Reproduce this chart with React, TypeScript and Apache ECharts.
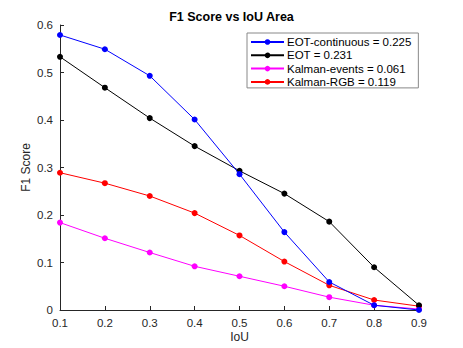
import React, { useEffect, useRef } from "react";
import * as echarts from "echarts";

const iouLabels = ["0.1", "0.2", "0.3", "0.4", "0.5", "0.6", "0.7", "0.8", "0.9"];
const eotContinuous = [0.579, 0.549, 0.493, 0.401, 0.286, 0.164, 0.059, 0.01, 0.0];
const eot = [0.533, 0.468, 0.404, 0.345, 0.293, 0.245, 0.186, 0.09, 0.01];
const kalmanEvents = [0.184, 0.151, 0.121, 0.092, 0.071, 0.05, 0.027, 0.01, 0.002];
const kalmanRGB = [0.289, 0.267, 0.24, 0.204, 0.157, 0.102, 0.052, 0.021, 0.008];
const seriesNames = [
  "EOT-continuous = 0.225",
  "EOT = 0.231",
  "Kalman-events = 0.061",
  "Kalman-RGB = 0.119",
];
const seriesColors = ["#0000ff", "#000000", "#ff00ff", "#ff0000"];

export default function App() {
  const ref = useRef<HTMLDivElement>(null);
  useEffect(() => {
    if (!ref.current) return;
    const chart = echarts.init(ref.current, null, { renderer: "svg" });
    const font = "Liberation Sans";
    const data = [eotContinuous, eot, kalmanEvents, kalmanRGB];
    chart.setOption({
      animation: false,
      backgroundColor: "#ffffff",
      textStyle: { fontFamily: font },
      title: {
        text: "F1 Score vs IoU Area",
        left: "center",
        top: 10,
        padding: 0,
        textStyle: { fontSize: 12.5, fontWeight: "bold", color: "#000", fontFamily: font },
      },
      legend: {
        orient: "vertical",
        left: 247,
        top: 33,
        itemWidth: 33,
        itemHeight: 7,
        itemGap: 1.3,
        padding: [3, 7, 0, 3],
        borderColor: "#888",
        borderWidth: 1,
        backgroundColor: "#fff",
        textStyle: {
          fontSize: 11.5,
          lineHeight: 12,
          color: "#000",
          fontFamily: font,
          padding: [0, 0, 0, -2],
        },
        data: seriesNames,
      },
      grid: { left: 60, right: 44, top: 25, bottom: 38 },
      xAxis: {
        type: "category",
        data: iouLabels,
        boundaryGap: false,
        name: "IoU",
        nameLocation: "middle",
        nameGap: 21,
        nameMoveOverlap: false,
        nameTextStyle: { fontSize: 12, color: "#262626", fontFamily: font },
        axisLine: { lineStyle: { color: "#262626", width: 1 } },
        axisTick: { inside: true, length: 4, lineStyle: { color: "#262626" } },
        axisLabel: { fontSize: 11.5, color: "#262626", margin: 7, fontFamily: font },
        splitLine: { show: false },
      },
      yAxis: {
        type: "value",
        min: 0,
        max: 0.6,
        interval: 0.1,
        name: "F1 Score",
        nameLocation: "middle",
        nameGap: 28,
        nameMoveOverlap: false,
        nameTextStyle: { fontSize: 12, color: "#262626", fontFamily: font },
        axisLine: { show: true, lineStyle: { color: "#262626", width: 1 } },
        axisTick: { show: true, inside: true, length: 4, lineStyle: { color: "#262626" } },
        axisLabel: {
          fontSize: 11.5,
          color: "#262626",
          margin: 7,
          fontFamily: font,
          formatter: (v: number) => (v === 0 ? "0" : v.toFixed(1)),
        },
        splitLine: { show: false },
      },
      series: seriesNames.map((name, i) => ({
        name,
        type: "line",
        data: data[i],
        symbol: "circle",
        symbolSize: 6,
        color: seriesColors[i],
        lineStyle: { width: 1, color: seriesColors[i] },
        itemStyle: { color: seriesColors[i] },
        z: 10 - i,
      })),
    });
    return () => chart.dispose();
  }, []);
  return (
    <div
      ref={ref}
      style={{ position: "absolute", left: 0, top: 0, width: 463, height: 348 }}
    />
  );
}
